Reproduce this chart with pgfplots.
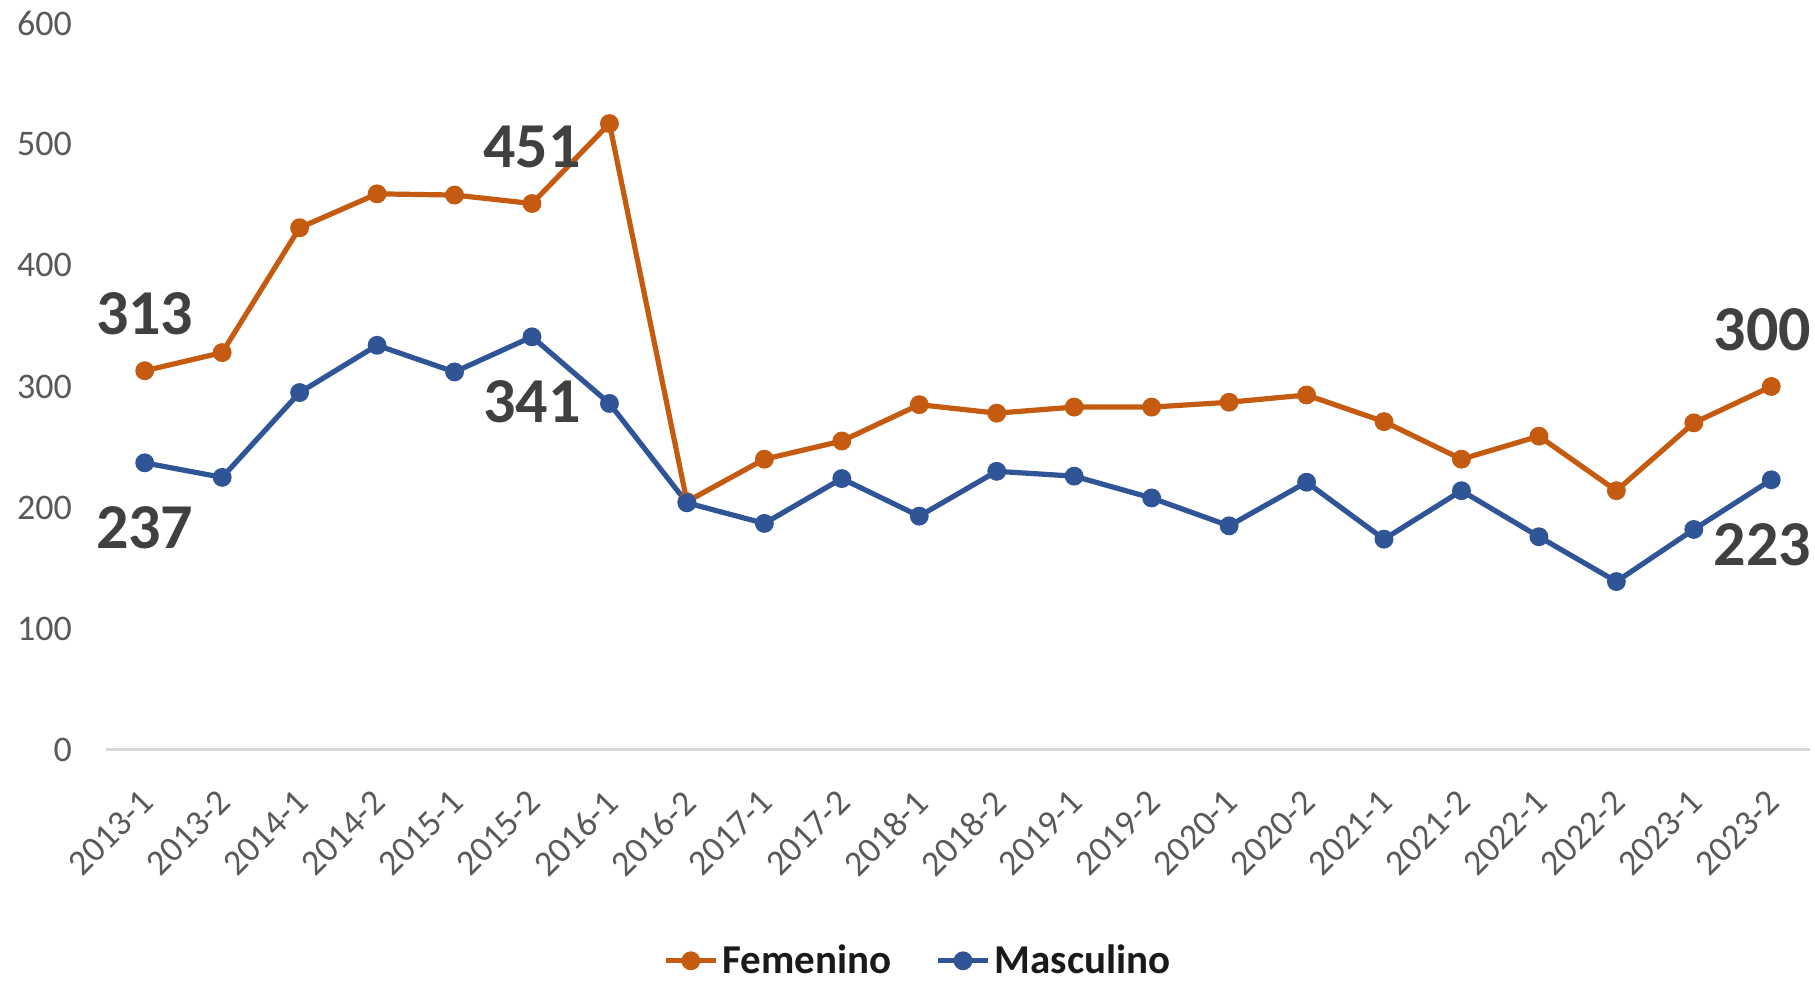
\documentclass[border=0pt]{standalone}
\usepackage{pgfplots}
\pgfplotsset{compat=1.18}
\usepackage{fontspec}
\setmainfont{Carlito}
\definecolor{fem}{HTML}{C55A11}
\definecolor{mas}{HTML}{2F5597}
\definecolor{tickc}{HTML}{595959}
\definecolor{labc}{HTML}{404040}
\definecolor{axl}{HTML}{D9D9D9}
\definecolor{legc}{HTML}{1A1A1A}
\begin{document}
\begin{tikzpicture}
\path[use as bounding box] (0,0) rectangle (907.5pt,491.5pt);
\begin{axis}[
  at={(53pt,116.5pt)}, anchor=south west,
  scale only axis, width=852pt, height=363.5pt,
  xmin=-0.5, xmax=21.5, ymin=0, ymax=600,
  clip=false,
  axis x line*=bottom, axis y line*=left,
  y axis line style={draw=none},
  x axis line style={draw=axl, line width=1.5pt},
  xtick style={draw=none}, ytick style={draw=none},
  ytick={0,100,...,600},
  xtick={0,...,21},
  xticklabels={2013-1,2013-2,2014-1,2014-2,2015-1,2015-2,2016-1,2016-2,2017-1,2017-2,2018-1,2018-2,2019-1,2019-2,2020-1,2020-2,2021-1,2021-2,2022-1,2022-2,2023-1,2023-2},
  /pgf/number format/assume math mode=true,
  yticklabel style={font=\fontsize{18pt}{20pt}\selectfont, text=tickc, xshift=-13.5pt},
  xticklabel style={xshift=-3pt, yshift=-19pt, rotate=45, anchor=north east, inner sep=0pt, font=\fontsize{18pt}{20pt}\selectfont, text=tickc},
  legend columns=2,
  legend style={at={(0.477,-0.290)}, anchor=center, draw=none, fill=none,
    font=\bfseries\fontsize{20.5pt}{22pt}\selectfont, text=legc,
    /tikz/every even column/.append style={column sep=20pt}},
  legend image code/.code={\draw[mark repeat=2,mark phase=2,#1] plot coordinates {(0pt,0pt) (12.5pt,0pt) (25pt,0pt)};},
  every axis plot/.append style={line width=2.6pt, mark=*, mark size=3.4pt},
  nodes near coords,
  point meta=explicit symbolic,
]
\addplot[color=fem, mark options={fill=fem, draw=fem},
  nodes near coords style={anchor=south, yshift=16.5pt, inner sep=0pt, text=labc, font=\bfseries\fontsize{32pt}{34pt}\selectfont}]
 coordinates {
 (0,313) [313] (1,328) [] (2,431) [] (3,459) [] (4,458) [] (5,451) [451]
 (6,517) [] (7,205) [] (8,240) [] (9,255) [] (10,285) [] (11,278) []
 (12,283) [] (13,283) [] (14,287) [] (15,293) [] (16,271) [] (17,240) []
 (18,259) [] (19,214) [] (20,270) [] (21,300) [\hspace*{-9pt}300]
 };
\addlegendentry{Femenino}
\addplot[color=mas, mark options={fill=mas, draw=mas},
  nodes near coords style={anchor=north, yshift=-20.5pt, inner sep=0pt, text=labc, font=\bfseries\fontsize{32pt}{34pt}\selectfont}]
 coordinates {
 (0,237) [237] (1,225) [] (2,295) [] (3,334) [] (4,312) [] (5,341) [341]
 (6,286) [] (7,204) [] (8,187) [] (9,224) [] (10,193) [] (11,230) []
 (12,226) [] (13,208) [] (14,185) [] (15,221) [] (16,174) [] (17,214) []
 (18,176) [] (19,139) [] (20,182) [] (21,223) [\hspace*{-9pt}223]
 };
\addlegendentry{Masculino}
\end{axis}
\end{tikzpicture}
\end{document}
